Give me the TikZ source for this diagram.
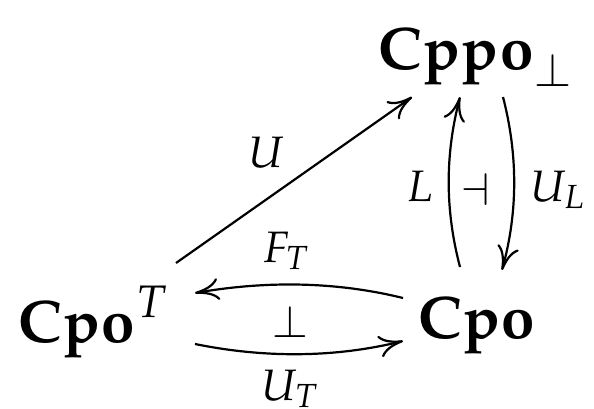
\documentclass[tikz,border=0pt]{standalone}
\usepackage{mathpazo}
\usetikzlibrary{arrows.meta}
\begin{document}
\begin{tikzpicture}[x=1pt,y=-1pt,
  obj/.style={inner sep=0pt, font=\fontsize{60}{68}\selectfont},
  lbl/.style={inner sep=0pt, font=\fontsize{44}{50}\selectfont},
  arr/.style={line width=2.2pt, -{Computer Modern Rightarrow[length=24pt,width=22pt]}}]
\useasboundingbox (0,0) rectangle (594,408);
% objects
\node[obj, anchor=base west] (cppo) at (378,69) {$\mathbf{Cppo}_\perp$};
\node[obj, anchor=base west] (cpoT) at (18,342) {$\mathbf{Cpo}^T$};
\node[obj, anchor=base west] (cpo) at (418,338) {$\mathbf{Cpo}$};
% connector ends
\coordinate (uS) at (176,263);
\coordinate (uE) at (412,97);
\coordinate (fS) at (403,298);
\coordinate (fE) at (195,293);
\coordinate (tS) at (195,344);
\coordinate (tE) at (403,341);
\coordinate (lS) at (460,267);
\coordinate (lE) at (460,97);
\coordinate (ulS) at (503,97);
\coordinate (ulE) at (502,270);
% arrows
\draw[arr] (uS) -- (uE);
\draw[arr] (fS) .. controls (334,281) and (264,281) .. (fE);
\draw[arr] (tS) .. controls (264,358) and (334,358) .. (tE);
\draw[arr] (lS) .. controls (445,210) and (445,155) .. (lE);
\draw[arr] (ulS) .. controls (518,155) and (518,212) .. (ulE);
% labels
\node[lbl, anchor=base west] (lu) at (248,167) {$U$};
\node[lbl, anchor=base west] (lf) at (263,262) {$F_T$};
\node[lbl] (lbot) at (290,322) {$\perp$};
\node[lbl, anchor=base west] (lut) at (261,400) {$U_T$};
\node[lbl, anchor=base west] (ll) at (406,201) {$L$};
\node[lbl] (ladj) at (476,190) {$\dashv$};
\node[lbl, anchor=base west] (lul) at (530,201) {$U_L$};
\end{tikzpicture}
\end{document}
